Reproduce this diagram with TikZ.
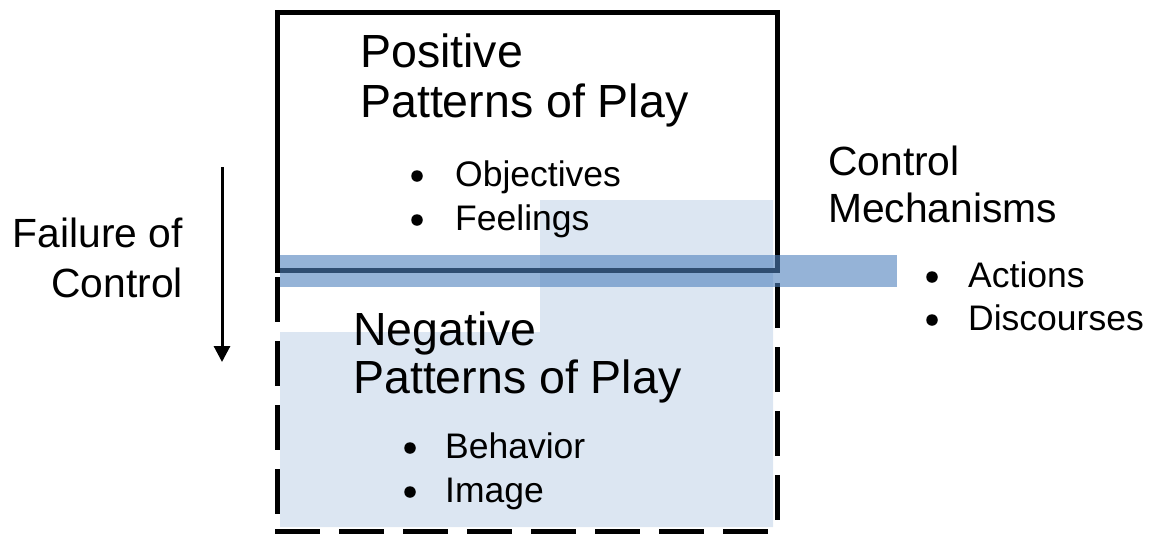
\documentclass[tikz,border=0pt]{standalone}
\usepackage{fontspec}
\setmainfont{Liberation Sans}
\usepackage{tikz}
\usetikzlibrary{arrows.meta}
\definecolor{accent}{HTML}{4F81BD}

\tikzset{
  heading/.style={inner sep=0pt, anchor=base west, font=\fontsize{46.5}{52}\selectfont},
  sidetext/.style={inner sep=0pt, font=\fontsize{40.8}{46}\selectfont},
  itemtext/.style={inner sep=0pt, anchor=base west, font=\fontsize{35.5}{40}\selectfont},
  bulletmark/.style={circle, fill, inner sep=0pt, minimum size=11.5pt},
  boxline/.style={line width=5pt},
  dashline/.style={line width=5pt, dash pattern=on 45pt off 19pt},
}

\begin{document}
\begin{tikzpicture}[x=1pt, y=-1pt, >=Stealth]
  \useasboundingbox (0,0) rectangle (1158,533);

  % Shaded part of the lower box
  \fill[accent!20] (540,200) -- (773,200) -- (773,527) -- (280,527)
    -- (280,332) -- (540,332) -- cycle;

  % Upper box (solid) and lower box (dashed)
  \draw[boxline] (277,12) rectangle (777,270);
  \draw[dashline] (277,277) -- (277,531);
  \draw[dashline] (777,283) -- (777,531);
  \draw[dashline] (275,531) -- (780,531);

  % Control band across the border
  \fill[accent, opacity=0.6] (280,255) rectangle (897,287);

  % Upper box texts
  \node[heading] (pos1) at (360,67) {Positive};
  \node[heading] (pos2) at (360,117) {Patterns of Play};
  \node[bulletmark] (objdot) at (417,176) {};
  \node[itemtext] (obj) at (455,186) {Objectives};
  \node[bulletmark] (feeldot) at (417,220) {};
  \node[itemtext] (feel) at (455,230) {Feelings};

  % Lower box texts
  \node[heading] (neg1) at (353,345) {Negative};
  \node[heading] (neg2) at (353,393) {Patterns of Play};
  \node[bulletmark] (behdot) at (410,448) {};
  \node[itemtext] (beh) at (445,458) {Behavior};
  \node[bulletmark] (imgdot) at (410,492) {};
  \node[itemtext] (img) at (445,502) {Image};

  % Failure of control
  \node[sidetext, anchor=base east] (fail1) at (183,247) {Failure of};
  \node[sidetext, anchor=base east] (fail2) at (183,297) {Control};
  \coordinate (fall start) at (222,167);
  \coordinate (fall end) at (222,362);
  \draw[-{Triangle[length=16pt,width=16pt]}, line width=3pt] (fall start) -- (fall end);

  % Control mechanisms
  \node[sidetext, anchor=base west] (ctrl1) at (828,175) {Control};
  \node[sidetext, anchor=base west] (ctrl2) at (828,222) {Mechanisms};
  \node[bulletmark] (actdot) at (932,277) {};
  \node[itemtext] (act) at (968,287) {Actions};
  \node[bulletmark] (disdot) at (932,320) {};
  \node[itemtext] (dis) at (968,330) {Discourses};
\end{tikzpicture}
\end{document}
